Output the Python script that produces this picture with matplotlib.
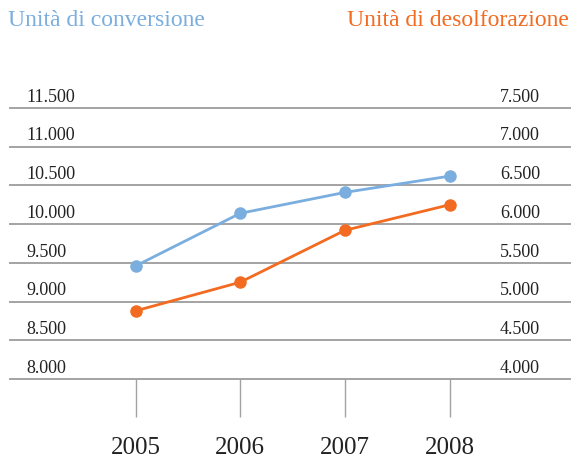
import matplotlib.pyplot as plt
from matplotlib.transforms import blended_transform_factory

# data
years = ["2005", "2006", "2007", "2008"]
conversione = [9.46, 10.14, 10.41, 10.62]      # left axis (thousands)
desolforazione = [4.88, 5.25, 5.92, 6.25]      # right axis (thousands)
left_ticks = [8.0, 8.5, 9.0, 9.5, 10.0, 10.5, 11.0, 11.5]
left_labels = ["8.000", "8.500", "9.000", "9.500", "10.000", "10.500", "11.000", "11.500"]
right_ticks = [4.0, 4.5, 5.0, 5.5, 6.0, 6.5, 7.0, 7.5]
right_labels = ["4.000", "4.500", "5.000", "5.500", "6.000", "6.500", "7.000", "7.500"]

blue = "#7aaedf"
orange = "#f26b21"
grid_col = "#a3a3a3"
txt_col = "#222222"
plt.rcParams['font.family'] = ['Liberation Serif', 'DejaVu Serif']

fig = plt.figure(figsize=(5.73, 4.59), dpi=100)
ax = fig.add_axes([0.0175, 0.1743, 0.977, 0.5904])
ax2 = ax.twinx()

x = list(range(len(years)))
ax.set_xlim(-1.2, 4.15)
ax.set_ylim(8.0, 11.5)
ax2.set_ylim(4.0, 7.5)

for v in left_ticks:
    ax.axhline(v, color=grid_col, lw=1.4, zorder=1, clip_on=False)

ax.plot(x, conversione, color=blue, lw=2, marker="o", ms=8, zorder=3, clip_on=False)
ax2.plot(x, desolforazione, color=orange, lw=2, marker="o", ms=8, zorder=3, clip_on=False)

# value labels sit just above each gridline
trL = blended_transform_factory(ax.transAxes, ax.transData)
trR = blended_transform_factory(ax2.transAxes, ax2.transData)
for v, s in zip(left_ticks, left_labels):
    ax.annotate(s, (0.0286, v), xycoords=trL, xytext=(0, 4.5), textcoords="offset points",
                ha="left", va="baseline", fontsize=13, color=txt_col)
for v, s in zip(right_ticks, right_labels):
    ax2.annotate(s, (0.875, v), xycoords=trR, xytext=(0, 4.5), textcoords="offset points",
                 ha="left", va="baseline", fontsize=13, color=txt_col)

ax.set_yticks([])
ax2.set_yticks([])
ax.set_xticks(x)
ax.set_xticklabels(years, fontsize=18, color=txt_col)
ax.tick_params(axis="x", direction="out", length=27.5, width=1.0, color=grid_col, pad=14)
for a in (ax, ax2):
    for sp in a.spines.values():
        sp.set_visible(False)

fig.text(0.014, 0.955, "Unità di conversione", color=blue, fontsize=17, ha="left", va="center")
fig.text(0.992, 0.955, "Unità di desolforazione", color=orange, fontsize=17, ha="right", va="center")

fig.savefig("out.png", dpi=100)
